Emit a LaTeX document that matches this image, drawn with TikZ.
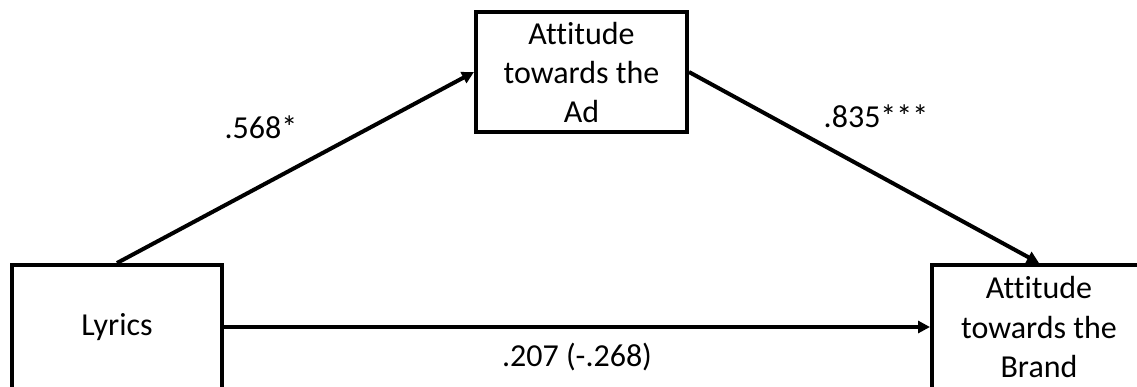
\documentclass[tikz,border=0pt]{standalone}
\usepackage{fontspec}
\setmainfont{Carlito}[Ligatures=NoCommon]
\usetikzlibrary{arrows.meta}
\begin{document}
\begin{tikzpicture}[x=1pt,y=-1pt,
  box/.style={draw=black,line width=4pt,fill=white,inner sep=0pt,align=center,
    font=\fontsize{32}{39}\selectfont},
  lbl/.style={inner sep=0pt,anchor=base,font=\fontsize{32}{39}\selectfont},
  arr/.style={line width=4pt,-{Triangle[length=12pt,width=12pt]}}]
\useasboundingbox[fill=white] (0,0) rectangle (1137,386);
\node[box,minimum width=211pt,minimum height=120pt] (ad) at (581.5,72) {Attitude\\towards the\\Ad};
\node[box,minimum width=210pt,minimum height=124pt] (lyr) at (117,327) {Lyrics};
\node[box,minimum width=214pt,minimum height=124pt] (brand) at (1039,327) {Attitude\\towards the\\Brand};
\draw[arr] (lyr.north) -- (ad.west);
\draw[arr] (ad.east) -- (brand.north);
\draw[arr] (lyr.east) -- (brand.west);
\node[lbl] (l1) at (261,138) {.568*};
\node[lbl] (l2) at (876,127) {.835***};
\node[lbl] (l3) at (577,366) {.207 (-.268)};
\end{tikzpicture}
\end{document}
